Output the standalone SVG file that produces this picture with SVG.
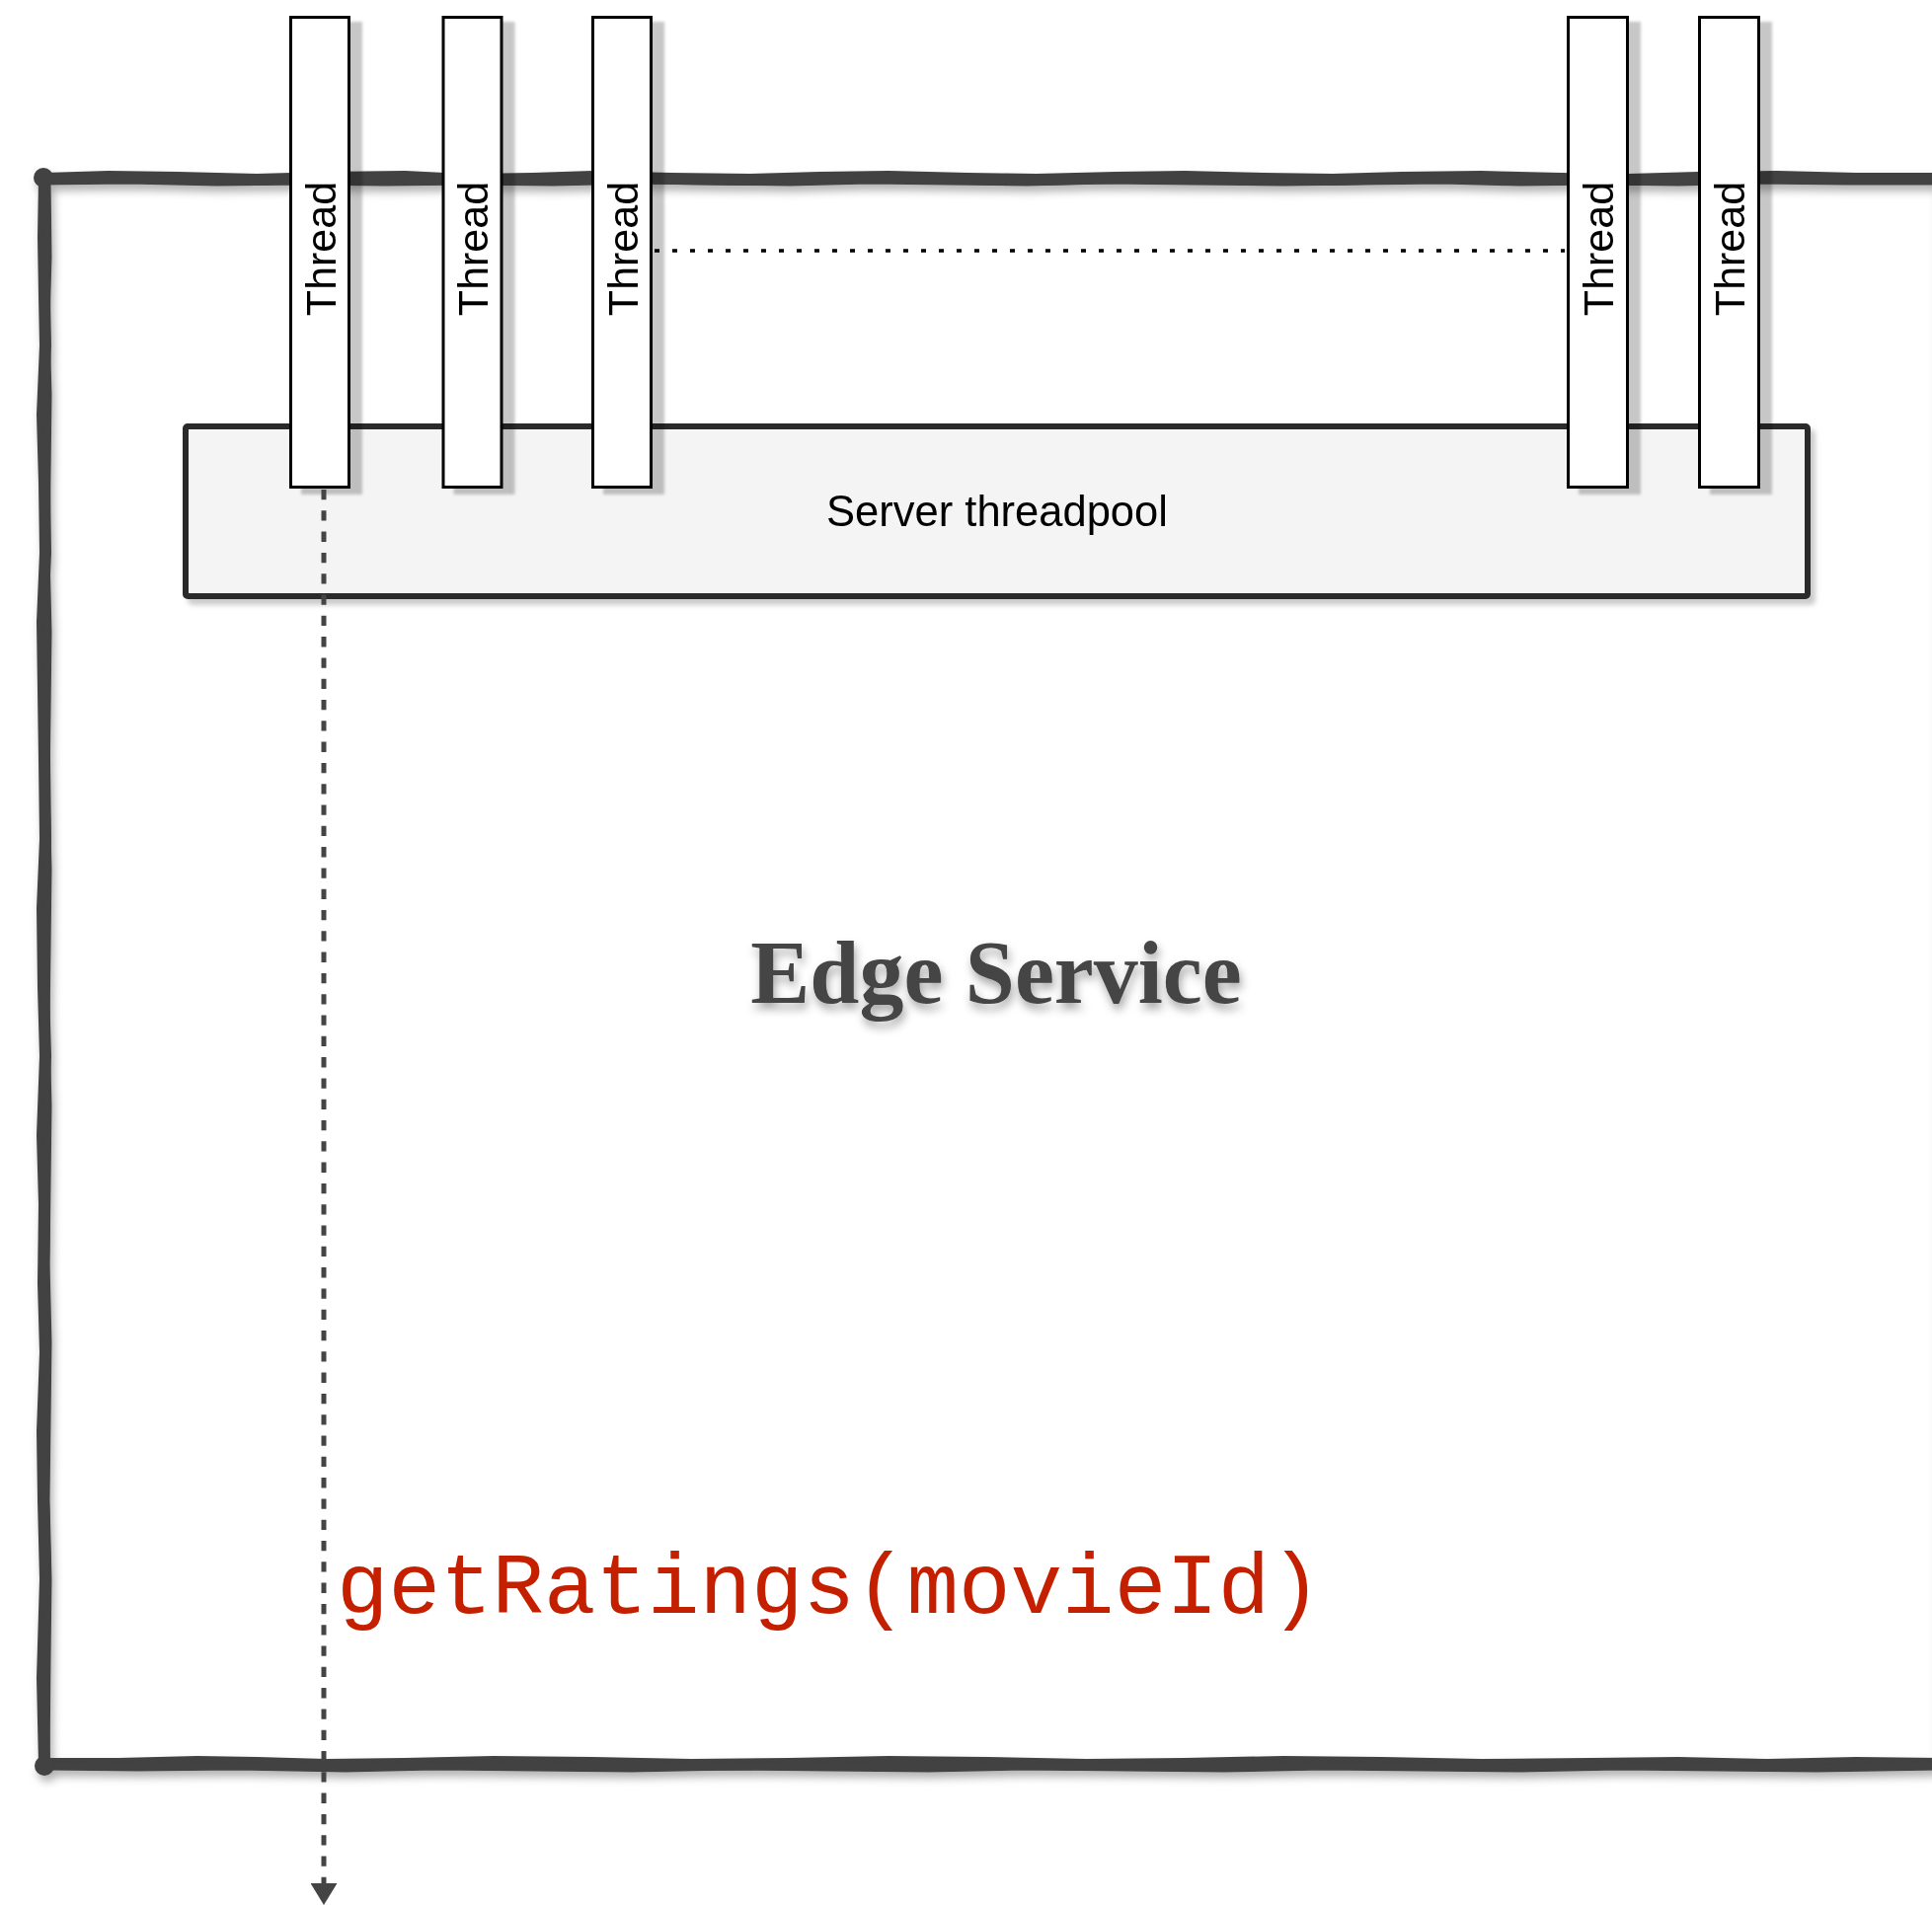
<svg xmlns="http://www.w3.org/2000/svg" width="1957" height="1930" viewBox="0 0 1957 1930">
<defs>
<filter id="frameShadow" x="-5%" y="-5%" width="110%" height="110%">
<feDropShadow dx="3" dy="6" stdDeviation="4" flood-color="#000" flood-opacity="0.3"/>
</filter>
<filter id="threadShadow" x="-20%" y="-5%" width="160%" height="110%">
<feDropShadow dx="12" dy="6" stdDeviation="1.6" flood-color="#000" flood-opacity="0.22"/>
</filter>
<filter id="poolShadow" x="-5%" y="-10%" width="110%" height="130%">
<feDropShadow dx="5" dy="6" stdDeviation="2.5" flood-color="#999" flood-opacity="0.5"/>
</filter>
<filter id="textShadow" x="-10%" y="-30%" width="120%" height="160%">
<feDropShadow dx="2" dy="6" stdDeviation="5" flood-color="#000" flood-opacity="0.35"/>
</filter>
<marker id="arrow" viewBox="0 -13.5 22 27" refX="0" refY="0" markerWidth="22" markerHeight="27" markerUnits="userSpaceOnUse" orient="auto">
<path d="M0,-13.5 L22,0 L0,13.5 Z" fill="#444"/>
</marker>
<style>
.frame{fill:none;stroke:#424242;stroke-width:12;stroke-linejoin:round;stroke-linecap:round}
.frame2{fill:none;stroke:#424242;stroke-width:9;stroke-linejoin:round;stroke-linecap:round}
.thread rect{fill:#fff;stroke:#000;stroke-width:3}
.thread text, .pool text{font-family:"Liberation Sans",Arial,sans-serif;fill:#000}
.thread text{font-size:43px}
.pool text{font-size:43.5px}
.pool rect{fill:#f4f4f4;stroke:#2a2a2a;stroke-width:6}
.dotted{stroke:#000;stroke-width:3.5;stroke-dasharray:5 13;fill:none}
.dashed{stroke:#444;stroke-width:5;stroke-dasharray:10.3 11;fill:none}
.title{font-family:"Liberation Serif","Times New Roman",serif;font-weight:bold;font-size:90px;fill:#444}
.call{font-family:"Liberation Mono","Courier New",monospace;font-size:87.5px;fill:#c42000}
</style>
</defs>
<rect width="1957" height="1930" fill="#fff"/>
<g id="edge-service" filter="url(#frameShadow)">
<path class="frame" d="M45,181 L110,179 L180,180 L260,182 L330,180 L410,179 L470,182 L540,181 L600,179 L680,181 L760,182 L830,180 L900,179 L980,181 L1050,182 L1130,180 L1200,179 L1280,181 L1350,182 L1420,180 L1500,179 L1580,181 L1650,182 L1720,180 L1800,179 L1880,181 L1966,181 L1966,1787 L1880,1786 L1790,1788 L1700,1786 L1610,1787 L1500,1788 L1400,1786 L1300,1785 L1200,1787 L1100,1788 L1000,1786 L900,1785 L800,1787 L700,1788 L600,1786 L500,1785 L410,1787 L330,1788 L260,1786 L200,1785 L120,1787 L45,1787 L43,1700 L46,1600 L44,1520 L43,1450 L46,1370 L44,1300 L45,1220 L43,1150 L46,1070 L44,1000 L43,920 L46,850 L45,770 L44,700 L43,630 L46,560 L45,490 L43,420 L46,350 L45,300 L44,240 Z"/>
<path class="frame2" d="M45,183 L130,182 L220,184 L300,183 L390,184 L480,183 L560,184 L650,182 L720,183 L800,184 L880,182 L960,183 L1040,184 L1120,182 L1210,183 L1300,184 L1380,183 L1460,182 L1540,184 L1620,183 L1700,184 L1780,182 L1870,183 L1966,183 M45,1789 L140,1790 L240,1789 L350,1791 L440,1789 L540,1790 L640,1791 L740,1789 L840,1790 L940,1791 L1040,1789 L1140,1790 L1240,1791 L1340,1789 L1440,1790 L1540,1791 L1640,1789 L1740,1790 L1840,1791 L1966,1789 M47,183 L48,260 L46,330 L48,400 L47,480 L46,560 L48,640 L47,720 L46,800 L48,880 L47,960 L46,1040 L48,1120 L47,1200 L46,1280 L48,1360 L47,1440 L46,1520 L48,1600 L47,1680 L46,1787"/>
<circle cx="44" cy="180" r="10" fill="#424242"/>
<circle cx="45" cy="1789" r="10" fill="#424242"/>
</g>
<g id="server-threadpool" class="pool" filter="url(#poolShadow)">
<rect x="188" y="432" width="1643" height="172" rx="2"/>
<text x="1010" y="533" text-anchor="middle">Server threadpool</text>
</g>
<text id="edge-service-label" class="title" x="1009" y="1016" text-anchor="middle" filter="url(#textShadow)">Edge Service</text>
<g id="thread-1" class="thread" filter="url(#threadShadow)">
<rect x="294.5" y="17.5" width="59" height="476"/>
<text transform="translate(339.5,252) rotate(-90)" text-anchor="middle">Thread</text>
</g>
<g id="thread-2" class="thread" filter="url(#threadShadow)">
<rect x="449" y="17.5" width="59" height="476"/>
<text transform="translate(494,252) rotate(-90)" text-anchor="middle">Thread</text>
</g>
<g id="thread-3" class="thread" filter="url(#threadShadow)">
<rect x="600.5" y="17.5" width="59" height="476"/>
<text transform="translate(645.5,252) rotate(-90)" text-anchor="middle">Thread</text>
</g>
<g id="thread-4" class="thread" filter="url(#threadShadow)">
<rect x="1588.5" y="17.5" width="60" height="476"/>
<text transform="translate(1634,252) rotate(-90)" text-anchor="middle">Thread</text>
</g>
<g id="thread-5" class="thread" filter="url(#threadShadow)">
<rect x="1721.5" y="17.5" width="60" height="476"/>
<text transform="translate(1767,252) rotate(-90)" text-anchor="middle">Thread</text>
</g>
<g id="connectors">
<line class="dotted" x1="663" y1="254" x2="1585" y2="254"/>
<line class="dashed" x1="328" y1="496" x2="328" y2="1908" marker-end="url(#arrow)"/>
</g>
<text id="call-label" class="call" x="341" y="1634">getRatings(movieId)</text>
</svg>
